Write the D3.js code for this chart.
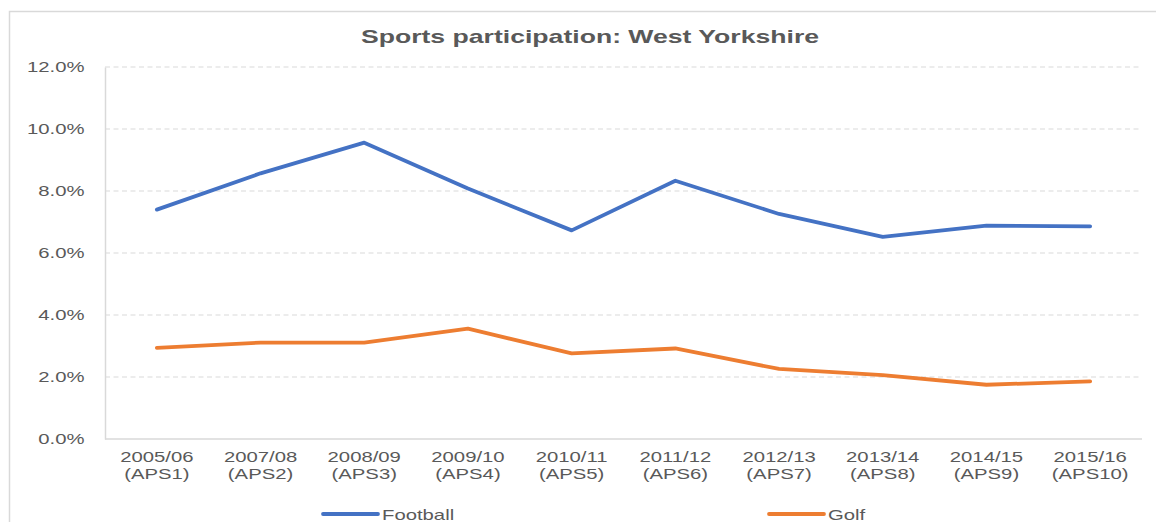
<!DOCTYPE html>
<html><head><meta charset="utf-8">
<script src="https://cdn.jsdelivr.net/npm/d3@7"></script>
<style>
html,body{margin:0;padding:0;background:#fff;}
text{font-family:"Liberation Sans",Arial,sans-serif;fill:#595959;}
</style></head>
<body><svg id="chart" width="1156" height="522"></svg>
<script>
const categories = ["2005/06|(APS1)","2007/08|(APS2)","2008/09|(APS3)","2009/10|(APS4)","2010/11|(APS5)","2011/12|(APS6)","2012/13|(APS7)","2013/14|(APS8)","2014/15|(APS9)","2015/16|(APS10)"];
const football = [7.40, 8.57, 9.56, 8.08, 6.73, 8.33, 7.26, 6.52, 6.88, 6.86];
const golf = [2.94, 3.11, 3.11, 3.56, 2.76, 2.92, 2.26, 2.06, 1.75, 1.86];
const yTicks = [0, 2, 4, 6, 8, 10, 12];
const seriesNames = ["Football", "Golf"];
const seriesColors = ["#4472C4", "#ED7D31"];
const title = "Sports participation: West Yorkshire";

(function () {
const SX = 1.4; // horizontal text stretch
const svg = d3.select("#chart");

// frame
svg.append("rect").attr("x", 9.5).attr("y", 11.5).attr("width", 1160).attr("height", 520)
  .attr("fill", "none").attr("stroke", "#d9d9d9").attr("stroke-width", 1.5);

const pl = 105, pr = 1142, pt = 67, pb = 439;
const x = d3.scaleBand().domain(categories).range([pl, pr]).padding(0);
const y = d3.scaleLinear().domain([0, 12]).range([pb, pt]);

function stext(g, tx, ty, str, anchor, size, weight) {
  return g.append("text")
    .attr("transform", `translate(${tx},${ty}) scale(${SX},1)`)
    .attr("text-anchor", anchor)
    .style("font-size", size + "px")
    .style("font-weight", weight || "normal")
    .text(str);
}

// title
stext(svg, 590, 43, title, "middle", 19, "bold");

// y axis line
const yAxis = d3.axisLeft(y).tickValues(yTicks).tickSize(0).tickFormat("");
const gy = svg.append("g").attr("transform", `translate(${pl},0)`).call(yAxis);
gy.select(".domain").attr("stroke", "#d9d9d9").attr("stroke-width", 1.5);
// gridlines
svg.append("g").selectAll("line").data(yTicks.filter(d => d > 0)).join("line")
  .attr("x1", pl).attr("x2", pr)
  .attr("y1", d => y(d)).attr("y2", d => y(d))
  .attr("stroke", "#d9d9d9").attr("stroke-width", 1).attr("stroke-dasharray", "5,3.5");
// baseline
svg.append("line").attr("x1", pl).attr("x2", pr).attr("y1", y(0)).attr("y2", y(0))
  .attr("stroke", "#d9d9d9").attr("stroke-width", 1.5);

// y tick labels
const yl = svg.append("g");
yTicks.forEach(t => stext(yl, 84.5, y(t) + 5, t.toFixed(1) + "%", "end", 14.5));

// x tick labels
const xl = svg.append("g");
categories.forEach(c => {
  const cx = x(c) + x.bandwidth() / 2;
  const parts = c.split("|");
  stext(xl, cx, 462, parts[0], "middle", 14.5);
  stext(xl, cx, 478.5, parts[1], "middle", 14.5);
});

// lines
const line = d3.line().x((d, i) => x(categories[i]) + x.bandwidth() / 2).y(d => y(d));
[football, golf].forEach((s, i) => {
  svg.append("path").datum(s).attr("d", line)
    .attr("fill", "none").attr("stroke", seriesColors[i]).attr("stroke-width", 3.8)
    .attr("stroke-linejoin", "round").attr("stroke-linecap", "round");
});

// legend
const legendX = [323, 769];
seriesNames.forEach((n, i) => {
  svg.append("line").attr("x1", legendX[i]).attr("x2", legendX[i] + 55)
    .attr("y1", 514).attr("y2", 514)
    .attr("stroke", seriesColors[i]).attr("stroke-width", 3.8).attr("stroke-linecap", "round");
  stext(svg, legendX[i] + 59, 519.5, n, "start", 14.5);
});
})();
</script></body></html>
